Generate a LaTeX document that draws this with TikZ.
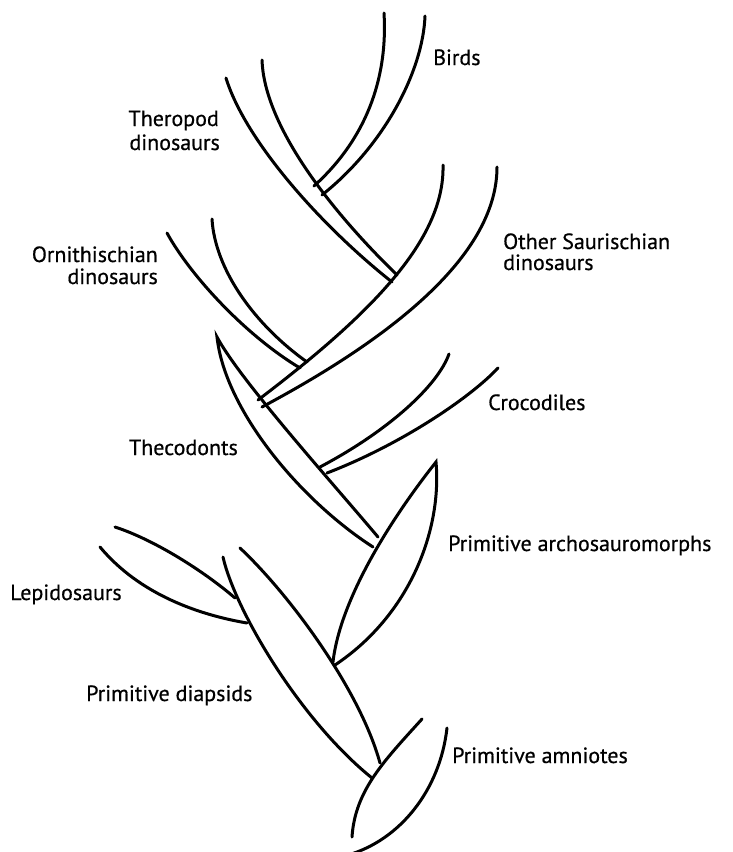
\documentclass[tikz,border=0pt]{standalone}
\usepackage{fontspec}
\setmainfont{PT Sans}
\newfontfamily\lblfont{PT Sans}[FakeBold=0.6]
\begin{document}
\begin{tikzpicture}[x=1pt,y=-1pt,
  lin/.style={line width=3pt, line cap=round, line join=miter, miter limit=20},
  lbl/.style={inner sep=0pt, font=\lblfont\fontsize{22}{26}\selectfont}]
\useasboundingbox (0,0) rectangle (733,852);
% Birds
\draw[lin] (384,13) .. controls (388,80) and (365,140) .. (314,186);
\draw[lin] (425,16) .. controls (423,70) and (385,145) .. (322,195);
% Theropods
\draw[lin] (226,78) .. controls (245,140) and (320,225) .. (392,282);
\draw[lin] (262,60) .. controls (264,120) and (320,200) .. (397,275);
% Other Saurischian
\draw[lin] (443,165) .. controls (445,240) and (370,315) .. (258,400);
\draw[lin] (497,167) .. controls (497,240) and (425,320) .. (262,407);
% Ornithischian
\draw[lin] (167,233) .. controls (190,275) and (245,335) .. (300,368);
\draw[lin] (212,219) .. controls (215,270) and (255,325) .. (307,362);
% Thecodonts spindle
\draw[lin] (373,547) .. controls (300,500) and (225,410) .. (217,337)
                     .. controls (240,380) and (330,480) .. (378,537);
% Crocodiles
\draw[lin] (449,354) .. controls (438,385) and (390,430) .. (320,467);
\draw[lin] (498,368) .. controls (470,398) and (400,445) .. (327,473);
% Primitive archosauromorphs spindle
\draw[lin] (333,662) .. controls (340,600) and (390,520) .. (436,462)
                     .. controls (442,530) and (410,615) .. (335,665);
% Primitive diapsids
\draw[lin] (223,557) .. controls (235,610) and (300,720) .. (372,778);
\draw[lin] (240,548) .. controls (290,595) and (360,690) .. (380,763);
% Lepidosaurs
\draw[lin] (115,527) .. controls (155,540) and (205,572) .. (235,598);
\draw[lin] (100,547) .. controls (140,595) and (200,615) .. (247,623);
% Primitive amniotes
\draw[lin] (422,719) .. controls (385,760) and (355,790) .. (352,837);
\draw[lin] (447,728) .. controls (440,790) and (400,840) .. (348,855);
% Labels
\node[lbl, anchor=base west] (birds) at (433,65) {Birds};
\node[lbl, anchor=base east] (thero1) at (219,126) {Theropod};
\node[lbl, anchor=base east] (thero2) at (220,150) {dinosaurs};
\node[lbl, anchor=base east] (ornith1) at (158,262) {Ornithischian};
\node[lbl, anchor=base east] (ornith2) at (158,284) {dinosaurs};
\node[lbl, anchor=base west] (osaur1) at (503,249) {Other Saurischian};
\node[lbl, anchor=base west] (osaur2) at (503,270) {dinosaurs};
\node[lbl, anchor=base west] (croc) at (488,410) {Crocodiles};
\node[lbl, anchor=base east] (theco) at (238,455) {Thecodonts};
\node[lbl, anchor=base west] (archo) at (448,551) {Primitive archosauromorphs};
\node[lbl, anchor=base west] (lepi) at (10,600) {Lepidosaurs};
\node[lbl, anchor=base west] (diap) at (86,701) {Primitive diapsids};
\node[lbl, anchor=base west] (amnio) at (452,763) {Primitive amniotes};
\end{tikzpicture}
\end{document}
